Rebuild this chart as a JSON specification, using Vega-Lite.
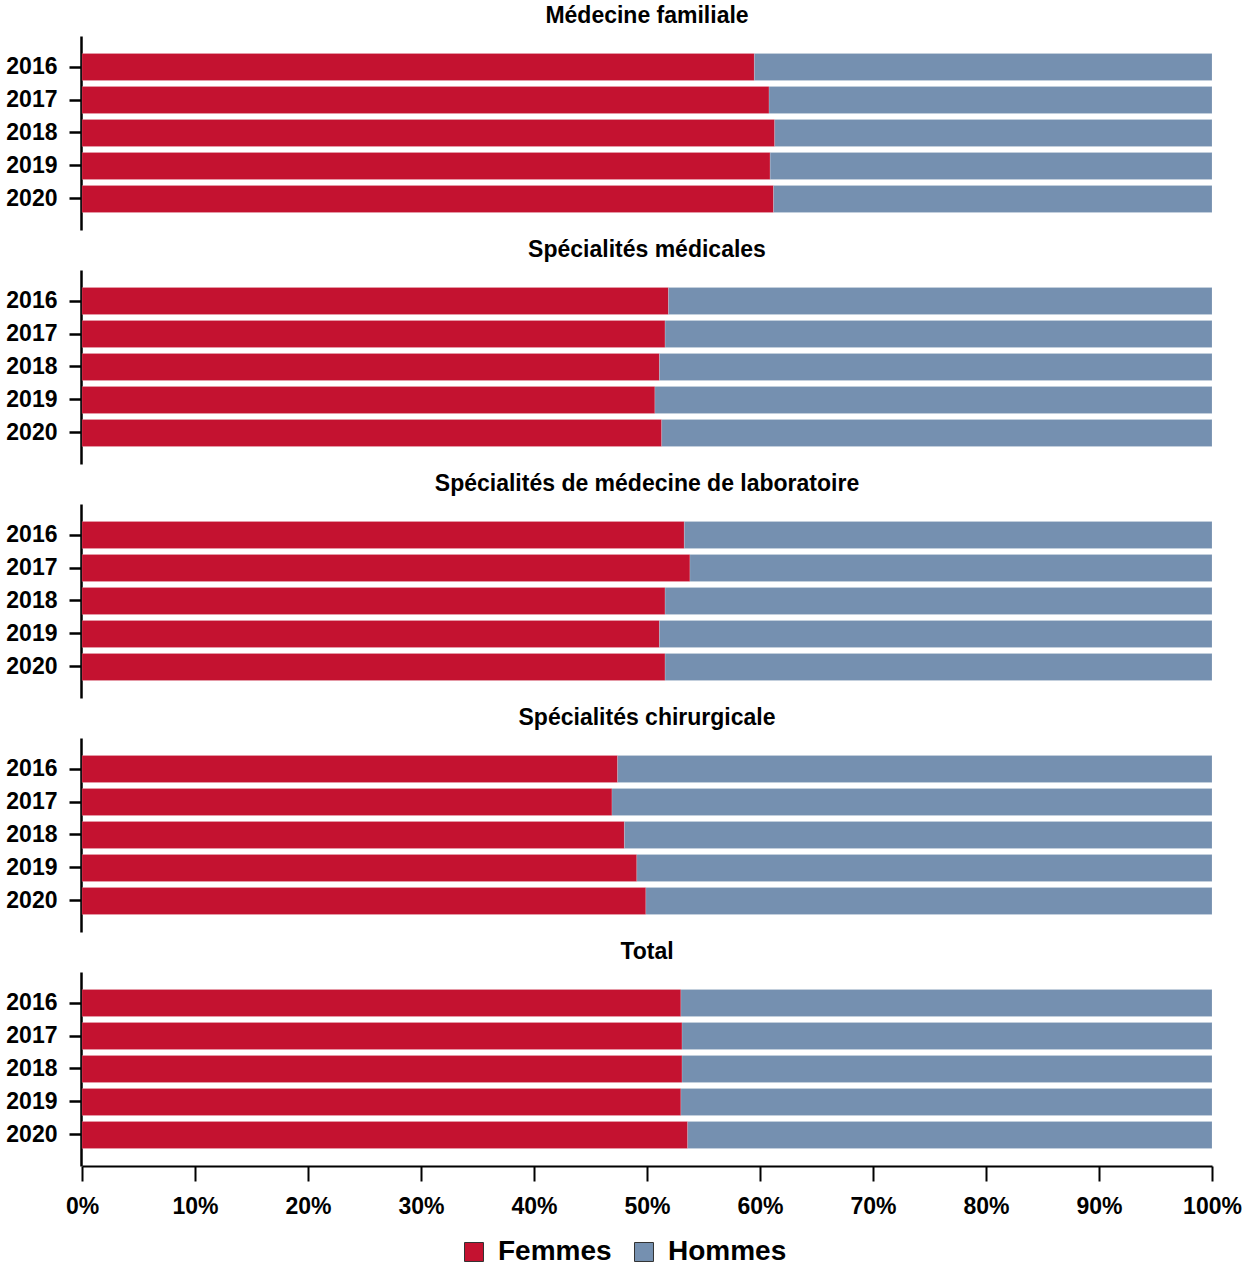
{
  "$schema": "https://vega.github.io/schema/vega-lite/v6.json",
  "background": "white",
  "padding": 5,
  "data": {
    "values": [
      {"cat": "Médecine familiale", "year": "2016", "sexe": "Femmes", "v": 0.595},
      {"cat": "Médecine familiale", "year": "2016", "sexe": "Hommes", "v": 0.405},
      {"cat": "Médecine familiale", "year": "2017", "sexe": "Femmes", "v": 0.608},
      {"cat": "Médecine familiale", "year": "2017", "sexe": "Hommes", "v": 0.392},
      {"cat": "Médecine familiale", "year": "2018", "sexe": "Femmes", "v": 0.613},
      {"cat": "Médecine familiale", "year": "2018", "sexe": "Hommes", "v": 0.387},
      {"cat": "Médecine familiale", "year": "2019", "sexe": "Femmes", "v": 0.609},
      {"cat": "Médecine familiale", "year": "2019", "sexe": "Hommes", "v": 0.391},
      {"cat": "Médecine familiale", "year": "2020", "sexe": "Femmes", "v": 0.612},
      {"cat": "Médecine familiale", "year": "2020", "sexe": "Hommes", "v": 0.388},
      {"cat": "Spécialités médicales", "year": "2016", "sexe": "Femmes", "v": 0.519},
      {"cat": "Spécialités médicales", "year": "2016", "sexe": "Hommes", "v": 0.481},
      {"cat": "Spécialités médicales", "year": "2017", "sexe": "Femmes", "v": 0.516},
      {"cat": "Spécialités médicales", "year": "2017", "sexe": "Hommes", "v": 0.484},
      {"cat": "Spécialités médicales", "year": "2018", "sexe": "Femmes", "v": 0.511},
      {"cat": "Spécialités médicales", "year": "2018", "sexe": "Hommes", "v": 0.489},
      {"cat": "Spécialités médicales", "year": "2019", "sexe": "Femmes", "v": 0.507},
      {"cat": "Spécialités médicales", "year": "2019", "sexe": "Hommes", "v": 0.493},
      {"cat": "Spécialités médicales", "year": "2020", "sexe": "Femmes", "v": 0.513},
      {"cat": "Spécialités médicales", "year": "2020", "sexe": "Hommes", "v": 0.487},
      {"cat": "Spécialités de médecine de laboratoire", "year": "2016", "sexe": "Femmes", "v": 0.533},
      {"cat": "Spécialités de médecine de laboratoire", "year": "2016", "sexe": "Hommes", "v": 0.467},
      {"cat": "Spécialités de médecine de laboratoire", "year": "2017", "sexe": "Femmes", "v": 0.538},
      {"cat": "Spécialités de médecine de laboratoire", "year": "2017", "sexe": "Hommes", "v": 0.462},
      {"cat": "Spécialités de médecine de laboratoire", "year": "2018", "sexe": "Femmes", "v": 0.516},
      {"cat": "Spécialités de médecine de laboratoire", "year": "2018", "sexe": "Hommes", "v": 0.484},
      {"cat": "Spécialités de médecine de laboratoire", "year": "2019", "sexe": "Femmes", "v": 0.511},
      {"cat": "Spécialités de médecine de laboratoire", "year": "2019", "sexe": "Hommes", "v": 0.489},
      {"cat": "Spécialités de médecine de laboratoire", "year": "2020", "sexe": "Femmes", "v": 0.516},
      {"cat": "Spécialités de médecine de laboratoire", "year": "2020", "sexe": "Hommes", "v": 0.484},
      {"cat": "Spécialités chirurgicale", "year": "2016", "sexe": "Femmes", "v": 0.474},
      {"cat": "Spécialités chirurgicale", "year": "2016", "sexe": "Hommes", "v": 0.526},
      {"cat": "Spécialités chirurgicale", "year": "2017", "sexe": "Femmes", "v": 0.469},
      {"cat": "Spécialités chirurgicale", "year": "2017", "sexe": "Hommes", "v": 0.531},
      {"cat": "Spécialités chirurgicale", "year": "2018", "sexe": "Femmes", "v": 0.480},
      {"cat": "Spécialités chirurgicale", "year": "2018", "sexe": "Hommes", "v": 0.520},
      {"cat": "Spécialités chirurgicale", "year": "2019", "sexe": "Femmes", "v": 0.491},
      {"cat": "Spécialités chirurgicale", "year": "2019", "sexe": "Hommes", "v": 0.509},
      {"cat": "Spécialités chirurgicale", "year": "2020", "sexe": "Femmes", "v": 0.499},
      {"cat": "Spécialités chirurgicale", "year": "2020", "sexe": "Hommes", "v": 0.501},
      {"cat": "Total", "year": "2016", "sexe": "Femmes", "v": 0.530},
      {"cat": "Total", "year": "2016", "sexe": "Hommes", "v": 0.470},
      {"cat": "Total", "year": "2017", "sexe": "Femmes", "v": 0.531},
      {"cat": "Total", "year": "2017", "sexe": "Hommes", "v": 0.469},
      {"cat": "Total", "year": "2018", "sexe": "Femmes", "v": 0.531},
      {"cat": "Total", "year": "2018", "sexe": "Hommes", "v": 0.469},
      {"cat": "Total", "year": "2019", "sexe": "Femmes", "v": 0.530},
      {"cat": "Total", "year": "2019", "sexe": "Hommes", "v": 0.470},
      {"cat": "Total", "year": "2020", "sexe": "Femmes", "v": 0.536},
      {"cat": "Total", "year": "2020", "sexe": "Hommes", "v": 0.464}
    ]
  },
  "facet": {
    "field": "cat",
    "type": "nominal",
    "sort": ["Médecine familiale", "Spécialités médicales", "Spécialités de médecine de laboratoire", "Spécialités chirurgicale", "Total"],
    "header": {"title": null, "labelFontSize": 23, "labelFontWeight": "bold", "labelFont": "Liberation Sans", "labelColor": "black", "labelPadding": 8}
  },
  "columns": 1,
  "spacing": 9,
  "spec": {
    "width": 1130,
    "height": 194,
    "mark": {"type": "bar", "stroke": "white", "strokeOpacity": 0.3, "strokeWidth": 0.5},
    "encoding": {
      "y": {
        "field": "year", "type": "ordinal",
        "scale": {"paddingInner": 0.18, "paddingOuter": 0.53},
        "axis": {"title": null, "domainColor": "black", "domainWidth": 2.5, "tickColor": "black", "tickWidth": 2.5, "tickSize": 12, "labelPadding": 12, "labelFontSize": 23, "labelFontWeight": "bold", "labelColor": "black", "labelFont": "Liberation Sans"}
      },
      "x": {
        "field": "v", "type": "quantitative", "stack": "zero",
        "scale": {"domain": [0, 1], "nice": false},
        "axis": {"title": null, "format": ".0%", "values": [0, 0.1, 0.2, 0.3, 0.4, 0.5, 0.6, 0.7, 0.8, 0.9, 1], "grid": false, "labelFlush": false, "labelOverlap": false, "domainColor": "black", "domainWidth": 2, "tickColor": "black", "tickWidth": 2, "tickSize": 15, "labelPadding": 14, "labelFontSize": 23, "labelFontWeight": "bold", "labelColor": "black", "labelFont": "Liberation Sans"}
      },
      "color": {
        "field": "sexe", "type": "nominal",
        "scale": {"domain": ["Femmes", "Hommes"], "range": ["#C41230", "#7590B0"]},
        "legend": {"title": null, "orient": "bottom", "direction": "horizontal", "symbolType": "square", "symbolSize": 360, "symbolStrokeColor": "#333333", "symbolStrokeWidth": 1, "labelFontSize": 28, "labelFontWeight": "bold", "labelFont": "Liberation Sans", "labelColor": "black", "columnPadding": 18, "labelOffset": 10, "offset": 20}
      },
      "order": {"field": "sexe", "sort": "ascending"}
    }
  },
  "config": {
    "view": {"stroke": null},
    "font": "Liberation Sans",
    "legend": {"layout": {"bottom": {"anchor": "middle"}}}
  }
}
